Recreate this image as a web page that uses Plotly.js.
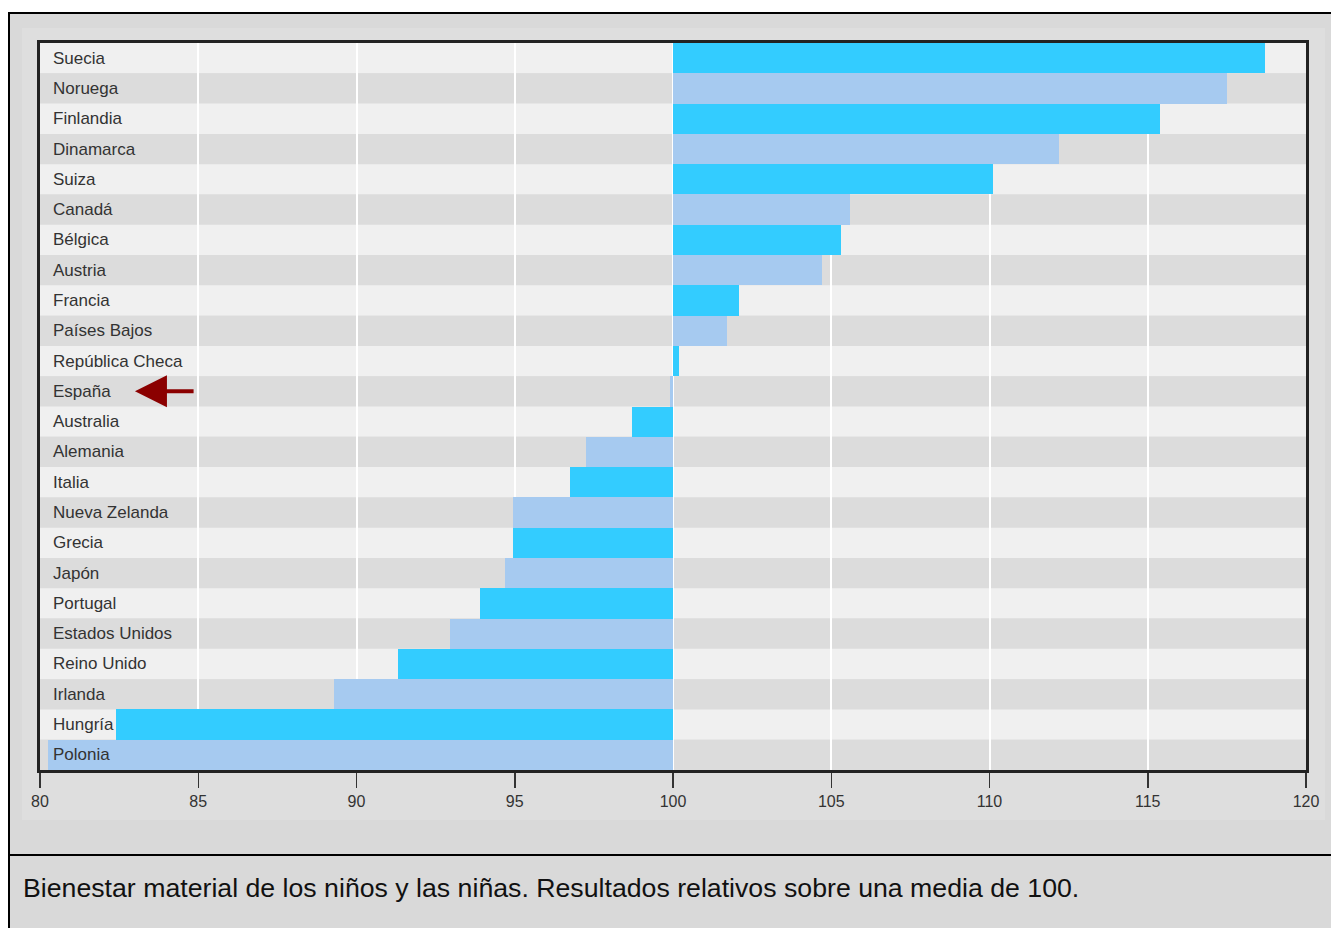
<!DOCTYPE html>
<html>
<head>
<meta charset="utf-8">
<script src="https://cdn.plot.ly/plotly-3.0.1.min.js"></script>
<style>
  html, body { margin: 0; padding: 0; background: #ffffff; width: 1331px; height: 928px; overflow: hidden; }
  #frame { position: absolute; left: 8px; top: 12px; width: 1400px; height: 1000px; border-left: 2px solid #000; border-top: 2px solid #000; background: #d9d9d9; }
  #panel { position: absolute; left: 22px; top: 28px; width: 1303px; height: 792px; background: #dedede; }
  #sep { position: absolute; left: 9px; top: 854px; width: 1330px; height: 2px; background: #000; }
  #caption { position: absolute; left: 23px; top: 873px; font-family: "Liberation Sans", Arial, sans-serif; font-size: 26.7px; line-height: 30px; color: #111; white-space: nowrap; }
  #chart { position: absolute; left: 0; top: 0; width: 1331px; height: 928px; }
</style>
</head>
<body>
<div id="frame"></div>
<div id="panel"></div>
<div id="sep"></div>
<div id="caption">Bienestar material de los niños y las niñas. Resultados relativos sobre una media de 100.</div>
<div id="chart"></div>
<script>
const countries = ["Suecia","Noruega","Finlandia","Dinamarca","Suiza","Canadá","Bélgica","Austria","Francia","Países Bajos","República Checa","España","Australia","Alemania","Italia","Nueva Zelanda","Grecia","Japón","Portugal","Estados Unidos","Reino Unido","Irlanda","Hungría","Polonia"];
const scores = [118.7,117.5,115.4,112.2,110.1,105.6,105.3,104.7,102.1,101.7,100.2,99.9,98.7,97.25,96.75,94.95,94.95,94.7,93.9,92.95,91.3,89.3,82.4,80.25];
const average = 100;
const xTicks = [80,85,90,95,100,105,110,115,120];
const highlighted = "España";

const barColors = countries.map((c,i) => i % 2 === 0 ? "#33ccff" : "#a6caf0");

const trace = {
  type: "bar",
  orientation: "h",
  y: countries,
  x: scores.map(v => v - average),
  base: countries.map(() => average),
  marker: { color: barColors, line: { width: 0 } },
  width: 1,
  hoverinfo: "y+text",
  text: scores.map(v => String(v)),
  textposition: "none"
};

const stripes = countries.map((c,i) => ({
  type: "rect", layer: "below", xref: "paper", yref: "y",
  x0: 0, x1: 1, y0: i - 0.5, y1: i + 0.5,
  fillcolor: i % 2 === 0 ? "#f0f0f0" : "#dcdcdc",
  line: { width: 0 }
}));

const labels = countries.map(c => ({
  xref: "paper", yref: "y", x: 0, y: c, xanchor: "left", yanchor: "middle",
  xshift: 11, text: c, showarrow: false,
  font: { family: "Liberation Sans, Arial, sans-serif", size: 17, color: "#333" }
}));

labels.push({
  xref: "x", yref: "y", axref: "x", ayref: "pixel",
  x: 83.0, y: highlighted, ax: 84.9, ay: 0,
  showarrow: true, arrowhead: 2, arrowsize: 1.6, arrowwidth: 4,
  arrowcolor: "#8b0000", text: ""
});

const layout = {
  width: 1331, height: 928,
  margin: { l: 40, r: 25, t: 43, b: 158, pad: 0 },
  paper_bgcolor: "rgba(0,0,0,0)",
  plot_bgcolor: "#dcdcdc",
  showlegend: false,
  bargap: 0,
  xaxis: {
    range: [80, 120], tickvals: xTicks, ticktext: xTicks.map(String),
    showgrid: true, gridcolor: "#ffffff", gridwidth: 2,
    zeroline: false,
    showline: true, mirror: true, linecolor: "#222", linewidth: 3,
    ticks: "outside", ticklen: 15, tickwidth: 1.5, tickcolor: "#333",
    tickfont: { family: "Liberation Sans, Arial, sans-serif", size: 16, color: "#333" },
    fixedrange: true
  },
  yaxis: {
    type: "category", autorange: "reversed",
    showticklabels: false, ticks: "", showgrid: false, zeroline: false,
    showline: true, mirror: true, linecolor: "#222", linewidth: 3,
    fixedrange: true
  },
  shapes: stripes,
  annotations: labels
};

Plotly.newPlot("chart", [trace], layout, { displayModeBar: false, staticPlot: true });
</script>
</body>
</html>
